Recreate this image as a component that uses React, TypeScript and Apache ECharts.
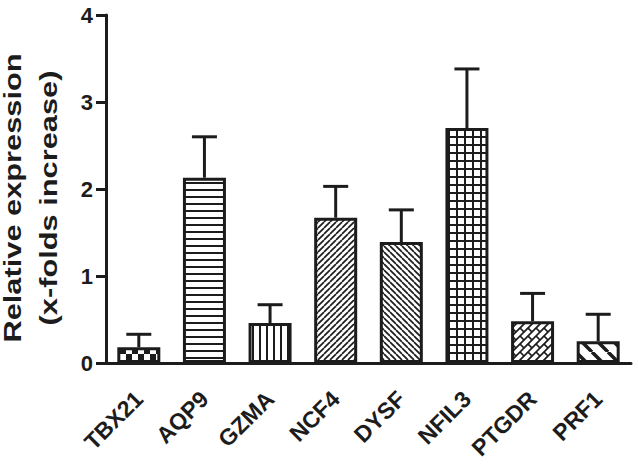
import React, { useEffect, useRef } from "react";
import * as echarts from "echarts";

const categories = ["TBX21", "AQP9", "GZMA", "NCF4", "DYSF", "NFIL3", "PTGDR", "PRF1"];
const means = [0.18, 2.13, 0.46, 1.67, 1.39, 2.7, 0.48, 0.25];
const sems = [0.15, 0.47, 0.21, 0.36, 0.37, 0.68, 0.32, 0.31];
const yTicks = [0, 1, 2, 3, 4];
const yTitle = ["Relative expression", "(x-folds increase)"];

const INK = "#1c1c1c";
const FONT = '"Liberation Sans", Arial, Helvetica, sans-serif';

function tile(w: number, h: number, draw: (ctx: CanvasRenderingContext2D) => void) {
  const c = document.createElement("canvas");
  c.width = w;
  c.height = h;
  const ctx = c.getContext("2d") as CanvasRenderingContext2D;
  ctx.fillStyle = "#ffffff";
  ctx.fillRect(0, 0, w, h);
  ctx.fillStyle = INK;
  ctx.strokeStyle = INK;
  draw(ctx);
  return c;
}

function makePatterns() {
  const checker = tile(12, 12, (ctx) => {
    ctx.fillRect(0, 0, 6, 6);
    ctx.fillRect(6, 6, 6, 6);
  });
  const horiz = tile(7, 7, (ctx) => ctx.fillRect(0, 0, 7, 2));
  const vert = tile(7, 7, (ctx) => ctx.fillRect(0, 0, 2, 7));
  const fwd = tile(6, 6, (ctx) => {
    ctx.lineWidth = 1.7;
    for (let i = -1; i <= 1; i++) {
      ctx.beginPath();
      ctx.moveTo(i * 6, 6);
      ctx.lineTo(i * 6 + 6, 0);
      ctx.stroke();
    }
  });
  const back = tile(6, 6, (ctx) => {
    ctx.lineWidth = 1.7;
    for (let i = -1; i <= 1; i++) {
      ctx.beginPath();
      ctx.moveTo(i * 6, 0);
      ctx.lineTo(i * 6 + 6, 6);
      ctx.stroke();
    }
  });
  const grid = tile(8, 8, (ctx) => {
    ctx.fillRect(0, 0, 8, 2);
    ctx.fillRect(0, 0, 2, 8);
  });
  const brick = tile(16, 16, (ctx) => {
    ctx.lineWidth = 1.7;
    for (let k = -2; k <= 5; k++) {
      ctx.beginPath();
      ctx.moveTo(-16, 8 * k + 16);
      ctx.lineTo(8 * k + 16, -16);
      ctx.stroke();
    }
    for (let k = -3; k <= 5; k++) {
      for (let m = -3; m <= 3; m++) {
        const c = 16 * m + (((k % 2) + 2) % 2) * 8;
        const x1 = (8 * k + c) / 2;
        const y1 = (8 * k - c) / 2;
        const x2 = (8 * k + 8 + c) / 2;
        const y2 = (8 * k + 8 - c) / 2;
        ctx.beginPath();
        ctx.moveTo(x1, y1);
        ctx.lineTo(x2, y2);
        ctx.stroke();
      }
    }
  });
  const wide = tile(16, 16, (ctx) => {
    ctx.lineWidth = 3.5;
    for (let i = -1; i <= 1; i++) {
      ctx.beginPath();
      ctx.moveTo(i * 16, 0);
      ctx.lineTo(i * 16 + 16, 16);
      ctx.stroke();
    }
  });
  return [checker, horiz, vert, fwd, back, grid, brick, wide];
}

export default function App() {
  const ref = useRef<HTMLDivElement>(null);
  useEffect(() => {
    if (!ref.current) return;
    const chart = echarts.init(ref.current, undefined, { renderer: "svg" });
    const pats = makePatterns();
    chart.setOption({
      animation: false,
      backgroundColor: "#ffffff",
      grid: { left: 106, right: 7, top: 15, bottom: 106, outerBoundsMode: "none" },
      xAxis: {
        type: "category",
        data: categories,
        axisLine: { lineStyle: { color: INK, width: 3 } },
        axisTick: { alignWithLabel: true, length: 11, lineStyle: { color: INK, width: 3 } },
        axisLabel: {
          interval: 0,
          rotate: 45,
          margin: 32,
          color: INK,
          fontSize: 23,
          fontWeight: "bold",
          fontFamily: FONT,
        },
      },
      yAxis: {
        type: "value",
        min: yTicks[0],
        max: yTicks[yTicks.length - 1],
        interval: 1,
        splitLine: { show: false },
        axisLine: { show: true, lineStyle: { color: INK, width: 3 } },
        axisTick: { show: true, length: 10, lineStyle: { color: INK, width: 3 } },
        axisLabel: {
          margin: 13,
          color: INK,
          fontSize: 22,
          fontWeight: "bold",
          fontFamily: FONT,
        },
      },
      graphic: yTitle.map((t, i) => ({
        type: "text",
        x: i === 0 ? 13 : 49,
        y: 198,
        rotation: Math.PI / 2,
        scaleX: 1.31,
        style: {
          text: t,
          fill: INK,
          fontSize: 23.5,
          fontWeight: "bold",
          fontFamily: FONT,
          align: "center",
          verticalAlign: "middle",
        },
      })),
      series: [
        {
          type: "custom",
          coordinateSystem: "cartesian2d",
          z: 1,
          encode: { x: 0, y: 1 },
          data: categories.map((_, i) => [i, means[i], sems[i]]),
          renderItem: (params: any, api: any) => {
            const i = api.value(0);
            const m = api.value(1);
            const e = api.value(2);
            const p0 = api.coord([i, m]);
            const p1 = api.coord([i, m + e]);
            return {
              type: "group",
              children: [
                {
                  type: "line",
                  shape: { x1: p0[0], y1: p0[1], x2: p1[0], y2: p1[1] },
                  style: { stroke: INK, lineWidth: 3 },
                },
                {
                  type: "line",
                  shape: { x1: p1[0] - 12.5, y1: p1[1], x2: p1[0] + 12.5, y2: p1[1] },
                  style: { stroke: INK, lineWidth: 3 },
                },
              ],
            };
          },
        },
        {
          type: "bar",
          z: 2,
          barWidth: 43,
          data: means.map((v, i) => ({
            value: v,
            itemStyle: {
              color: { image: pats[i], repeat: "repeat", imageWidth: pats[i].width, imageHeight: pats[i].height },
              borderColor: INK,
              borderWidth: 3,
            },
          })),
        },
      ],
    });
    return () => chart.dispose();
  }, []);
  return (
    <div
      ref={ref}
      style={{ position: "fixed", left: 0, top: 0, width: 638, height: 469, background: "#fff" }}
    />
  );
}
